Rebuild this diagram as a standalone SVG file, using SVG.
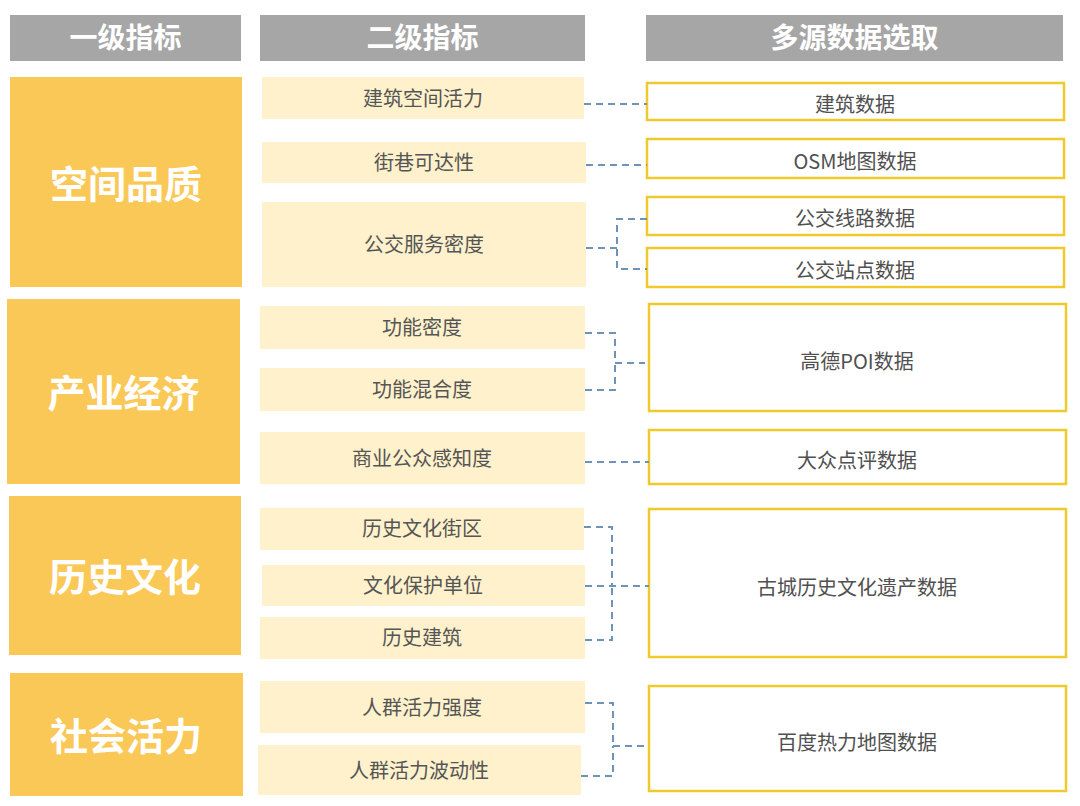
<svg xmlns="http://www.w3.org/2000/svg" width="1080" height="806" viewBox="0 0 1080 806">
<style>
.hd{fill:#a6a6a6}
.hdt{font-family:"Noto Sans CJK SC",sans-serif;font-size:28px;font-weight:bold;fill:#fff;text-anchor:middle;dominant-baseline:central}
.l1{fill:#fac857}
.l1t{font-family:"Noto Sans CJK SC",sans-serif;font-size:38px;font-weight:bold;fill:#fff;text-anchor:middle;dominant-baseline:central}
.l2{fill:#fef1cb}
.l2t{font-family:"Noto Sans CJK SC",sans-serif;font-size:20px;fill:#555;text-anchor:middle;dominant-baseline:central}
.ds{fill:#fff;stroke:#f0c92c;stroke-width:2.5}
.dst{font-family:"Noto Sans CJK SC",sans-serif;font-size:20px;fill:#505050;text-anchor:middle;dominant-baseline:central}
.cn{fill:none;stroke:#6d93b8;stroke-width:2;stroke-dasharray:7,5}
</style>
<rect width="1080" height="806" fill="#fff"/>
<g id="headers">
<g id="h1"><rect class="hd" x="10" y="15" width="231" height="46"/><text class="hdt" x="125.5" y="36">一级指标</text></g>
<g id="h2"><rect class="hd" x="260" y="15" width="325" height="46"/><text class="hdt" x="422.5" y="36">二级指标</text></g>
<g id="h3"><rect class="hd" x="646" y="15" width="417" height="46"/><text class="hdt" x="854.5" y="36">多源数据选取</text></g>
</g>
<g id="level1">
<g id="n-kjpz"><rect class="l1" x="10" y="77" width="232" height="210"/><text class="l1t" x="126" y="181">空间品质</text></g>
<g id="n-cyjj"><rect class="l1" x="7" y="299" width="233" height="185"/><text class="l1t" x="123.5" y="390">产业经济</text></g>
<g id="n-lswh"><rect class="l1" x="9" y="496" width="232" height="159"/><text class="l1t" x="125" y="574">历史文化</text></g>
<g id="n-shhl"><rect class="l1" x="10" y="673" width="233" height="123"/><text class="l1t" x="126" y="733">社会活力</text></g>
</g>
<g id="level2">
<g id="n-jzkj"><rect class="l2" x="262" y="77" width="322" height="42"/><text class="l2t" x="423" y="97">建筑空间活力</text></g>
<g id="n-jxkd"><rect class="l2" x="262" y="142" width="324" height="41"/><text class="l2t" x="424" y="161">街巷可达性</text></g>
<g id="n-gjfw"><rect class="l2" x="262" y="202" width="324" height="85"/><text class="l2t" x="424" y="243">公交服务密度</text></g>
<g id="n-gnmd"><rect class="l2" x="260" y="306" width="325" height="43"/><text class="l2t" x="422" y="326">功能密度</text></g>
<g id="n-gnhh"><rect class="l2" x="260" y="368" width="325" height="43"/><text class="l2t" x="422" y="388">功能混合度</text></g>
<g id="n-syga"><rect class="l2" x="260" y="432" width="325" height="52"/><text class="l2t" x="422" y="457">商业公众感知度</text></g>
<g id="n-lswhjq"><rect class="l2" x="260" y="508" width="324" height="42"/><text class="l2t" x="422" y="527">历史文化街区</text></g>
<g id="n-whbh"><rect class="l2" x="262" y="565" width="323" height="41"/><text class="l2t" x="423" y="584">文化保护单位</text></g>
<g id="n-lsjz"><rect class="l2" x="260" y="617" width="325" height="42"/><text class="l2t" x="422" y="636">历史建筑</text></g>
<g id="n-rqqd"><rect class="l2" x="260" y="681" width="325" height="52"/><text class="l2t" x="422" y="706">人群活力强度</text></g>
<g id="n-rqbd"><rect class="l2" x="258" y="745" width="323" height="50"/><text class="l2t" x="419" y="769">人群活力波动性</text></g>
</g>
<g id="data">
<g id="d-jz"><rect class="ds" x="647" y="83" width="417" height="37"/><text class="dst" x="855" y="103">建筑数据</text></g>
<g id="d-osm"><rect class="ds" x="647" y="139" width="417" height="39"/><text class="dst" x="855" y="160">OSM地图数据</text></g>
<g id="d-gjxl"><rect class="ds" x="647" y="197" width="417" height="38"/><text class="dst" x="855" y="217">公交线路数据</text></g>
<g id="d-gjzd"><rect class="ds" x="647" y="248" width="417" height="39"/><text class="dst" x="855" y="269">公交站点数据</text></g>
<g id="d-poi"><rect class="ds" x="649" y="304" width="417" height="107"/><text class="dst" x="857" y="360">高德POI数据</text></g>
<g id="d-dzdp"><rect class="ds" x="649" y="430" width="417" height="54"/><text class="dst" x="857" y="459">大众点评数据</text></g>
<g id="d-gc"><rect class="ds" x="649" y="509" width="417" height="148"/><text class="dst" x="857" y="586">古城历史文化遗产数据</text></g>
<g id="d-bd"><rect class="ds" x="649" y="686" width="417" height="105"/><text class="dst" x="857" y="741">百度热力地图数据</text></g>
</g>
<g id="connectors">
<path class="cn" d="M584 104H647"/>
<path class="cn" d="M586 165H647"/>
<path class="cn" d="M586 248H617M647 219H617V269H647"/>
<path class="cn" d="M585 333H615V363M585 390H615V363M615 363H645"/>
<path class="cn" d="M585 462H649"/>
<path class="cn" d="M584 527H612V586M585 640H612V586M585 586H649"/>
<path class="cn" d="M585 703H613V746M581 776H613V746M613 746H645"/>
</g>
</svg>
